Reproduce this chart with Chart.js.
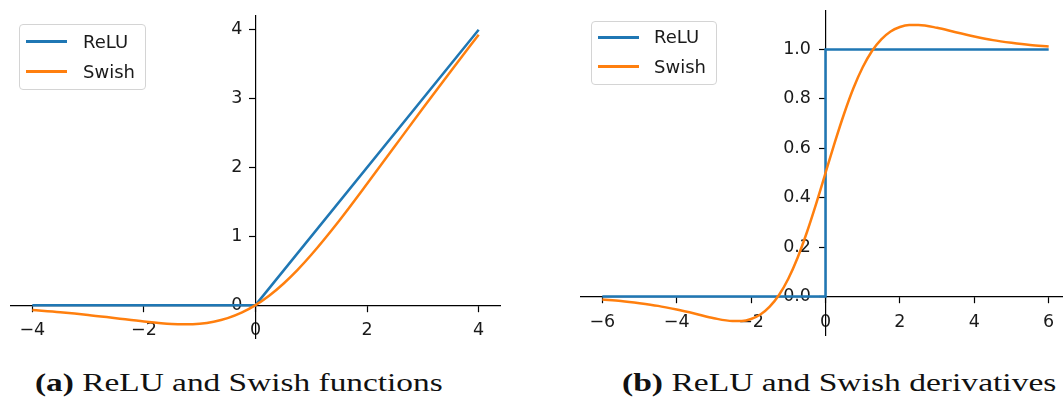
<!DOCTYPE html>
<html>
<head>
<meta charset="utf-8">
<script src="https://cdn.jsdelivr.net/npm/chart.js@4.4.1/dist/chart.umd.min.js"></script>
<style>
  html, body { margin:0; padding:0; background:#fff; width:1063px; height:403px; overflow:hidden; }
  #page { position:relative; width:1063px; height:403px; overflow:hidden; }
  canvas { position:absolute; }
  .legend { position:absolute; border:1px solid #d4d4d4; border-radius:4px; background:rgba(255,255,255,0.85); box-sizing:border-box; }
  .legend .line { position:absolute; height:3px; width:41px; }
  .legend .txt { position:absolute; font:18px "DejaVu Sans", sans-serif; color:#1a1a1a; line-height:18px; }
  .caption { position:absolute; font:26px/26px "Liberation Serif", serif; color:#111; white-space:nowrap; transform-origin:0 0; }
  .caption b { font-weight:bold; }
</style>
</head>
<body>
<div id="page">
  <canvas id="chartFunc" width="491" height="324" style="left:10px; top:15px;"></canvas>
  <canvas id="chartDeriv" width="491" height="326" style="left:580px; top:10px;"></canvas>
  <div class="caption" id="capA" style="left:35px; top:370px;"><b>(a)</b> ReLU and Swish functions</div>
  <div class="caption" id="capB" style="left:622px; top:370px;"><b>(b)</b> ReLU and Swish derivatives</div>
</div>
<script>
// series names + colours (matplotlib defaults)
const seriesNames = ['ReLU', 'Swish'];
const seriesColors = ['#1f77b4', '#ff7f0e'];

// (a) functions
const reluX = [-4, 0, 4];
const reluY = [0, 0, 4];
const swishX = [-4, -3.5, -3, -2.5, -2, -1.5, -1.25, -1, -0.75, -0.5, -0.25, 0, 0.25, 0.5, 0.75, 1, 1.5, 2, 2.5, 3, 3.5, 4];
const swishY = [-0.072, -0.103, -0.142, -0.190, -0.238, -0.274, -0.278, -0.269, -0.240, -0.189, -0.110, 0, 0.140, 0.311, 0.509, 0.731, 1.226, 1.762, 2.311, 2.858, 3.397, 3.928];

// (b) derivatives
const reluDX = [-6, 0, 0, 6];
const reluDY = [0, 0, 1, 1];
const swishDX = [-6, -5.5, -5, -4.5, -4, -3.5, -3, -2.5, -2.25, -2, -1.75, -1.5, -1.25, -1, -0.75, -0.5, -0.25, 0, 0.25, 0.5, 0.75, 1, 1.25, 1.5, 1.75, 2, 2.25, 2.5, 3, 3.5, 4, 4.5, 5, 5.5, 6];
const swishDY = [-0.012, -0.018, -0.027, -0.038, -0.053, -0.070, -0.088, -0.099, -0.099, -0.091, -0.073, -0.041, 0.006, 0.072, 0.157, 0.260, 0.376, 0.500, 0.624, 0.740, 0.843, 0.928, 0.994, 1.041, 1.073, 1.091, 1.099, 1.099, 1.088, 1.070, 1.053, 1.038, 1.027, 1.018, 1.012];

// tick labels
const xTicksFunc = [-4, -2, 0, 2, 4];
const yTicksFunc = [0, 1, 2, 3, 4];
const xTicksDeriv = [-6, -4, -2, 0, 2, 4, 6];
const yTicksDeriv = [0, 0.2, 0.4, 0.6, 0.8, 1.0];

const pts = (xs, ys) => xs.map((x, i) => ({ x, y: ys[i] }));
const tickFont = { family: '"DejaVu Sans", sans-serif', size: 17.5 };
const minus = v => v < 0 ? '\u2212' + Math.abs(v) : String(v);

function axis(ticks, lim, at, fmt) {
  return {
    type: 'linear',
    min: lim[0], max: lim[1],
    position: at,
    grid: { display: true, drawOnChartArea: false, drawTicks: true, tickLength: 6, tickWidth: 1.2, tickColor: '#000' },
    border: { display: true, color: '#000', width: 1.2 },
    ticks: { color: '#1a1a1a', font: tickFont, padding: 9, autoSkip: false, maxRotation: 0, callback: v => fmt(v) },
    afterBuildTicks: s => { s.ticks = ticks.map(v => ({ value: v })); },
    // centred axes should not eat into the plot area
    afterFit: s => {
      s.paddingTop = s.paddingBottom = s.paddingLeft = s.paddingRight = 0;
      if (s.isHorizontal()) s.height = 0; else s.width = 0;
    }
  };
}

// centred y axis: push its labels left of the tick marks, like matplotlib
const yLabelShift = {
  id: 'yLabelShift',
  beforeDraw(chart, args, opts) {
    chart.scales.y.getLabelItems().forEach(it => {
      if (!it._moved) { it.options.translation[0] -= opts.dx; it._moved = true; }
    });
  }
};

function makeChart(id, relu, swish, xs, ys, dx) {
  new Chart(document.getElementById(id), {
    type: 'scatter',
    data: {
      datasets: [
        { label: seriesNames[0], data: relu, borderColor: seriesColors[0], showLine: true, tension: 0, order: 1 },
        { label: seriesNames[1], data: swish, borderColor: seriesColors[1], showLine: true, cubicInterpolationMode: 'monotone', order: 0 }
      ]
    },
    options: {
      responsive: false,
      animation: false,
      layout: { padding: 0, autoPadding: false },
      elements: { point: { radius: 0, hoverRadius: 0 }, line: { borderWidth: 2.5 } },
      plugins: { legend: { display: false }, tooltip: { enabled: false }, yLabelShift: { dx } },
      scales: { x: xs, y: ys }
    },
    plugins: [yLabelShift]
  });
}

makeChart('chartFunc', pts(reluX, reluY), pts(swishX, swishY),
  axis(xTicksFunc, [-4.4, 4.4], { y: 0 }, minus),
  axis(yTicksFunc, [-0.492, 4.214], { x: 0 }, v => String(v)), 13);

makeChart('chartDeriv', pts(reluDX, reluDY), pts(swishDX, swishDY),
  axis(xTicksDeriv, [-6.6, 6.6], { y: 0 }, minus),
  axis(yTicksDeriv, [-0.16, 1.16], { x: 0 }, v => v.toFixed(1)), 14.5);

// legends in the matplotlib style (framed, upper left)
function legend(box, lineX, textX, rows) {
  const el = document.createElement('div');
  el.className = 'legend';
  Object.assign(el.style, { left: box[0] + 'px', top: box[1] + 'px', width: box[2] + 'px', height: box[3] + 'px' });
  seriesNames.forEach((name, i) => {
    const ln = document.createElement('div');
    ln.className = 'line';
    Object.assign(ln.style, { left: lineX + 'px', top: (rows[i] - 1.5) + 'px', background: seriesColors[i] });
    const tx = document.createElement('div');
    tx.className = 'txt';
    tx.textContent = name;
    Object.assign(tx.style, { left: textX + 'px', top: (rows[i] - 9) + 'px' });
    el.appendChild(ln); el.appendChild(tx);
  });
  document.getElementById('page').appendChild(el);
}
legend([19, 24, 127, 66], 6, 63, [16.5, 46.5]);
legend([591, 21, 126, 64], 6, 62, [15, 44.7]);

// stretch the serif captions to the width they take in the figure
[['capA', 408], ['capB', 435]].forEach(([id, w]) => {
  const el = document.getElementById(id);
  el.style.transform = 'scaleX(' + (w / el.offsetWidth).toFixed(3) + ')';
});
</script>
</body>
</html>
